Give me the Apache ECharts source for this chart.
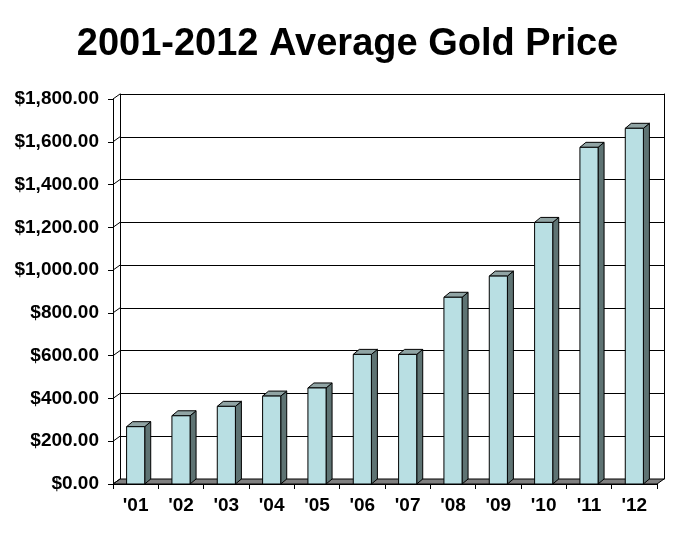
<!DOCTYPE html>
<html>
<head>
<meta charset="utf-8">
<script src="https://cdn.jsdelivr.net/npm/echarts@6/dist/echarts.min.js"></script>
<style>
  html, body { margin: 0; padding: 0; background: #fff; }
  #chart { width: 695px; height: 539px; }
</style>
</head>
<body>
<div id="chart"></div>
<script>
const categories = ["'01", "'02", "'03", "'04", "'05", "'06", "'07", "'08", "'09", "'10", "'11", "'12"];
const prices = [268, 319, 363, 411, 449, 606, 606, 873, 972, 1223, 1574, 1663];
const yTicks = [0, 200, 400, 600, 800, 1000, 1200, 1400, 1600, 1800];

// depth of the back wall and of each bar, in px
const WALL_DX = 7, WALL_DY = 5;
const BAR_DX = 6, BAR_DY = 5;

const fmtMoney = (v) => '$' + v.toLocaleString('en-US', { minimumFractionDigits: 2, maximumFractionDigits: 2 });
const font = '"Liberation Sans", Arial, sans-serif';

const chart = echarts.init(document.getElementById('chart'));

const renderBar = (params, api) => {
  const base = api.coord([api.value(0), 0]);
  const top = api.coord([api.value(0), api.value(1)]);
  const bw = api.size([1, 0])[0] * 0.4;
  const x0 = base[0] - bw / 2;
  const x1 = base[0] + bw / 2;
  const stroke = { stroke: '#000', lineWidth: 1 };
  return {
    type: 'group',
    children: [
      {
        type: 'polygon',
        shape: { points: [[x1, top[1]], [x1 + BAR_DX, top[1] - BAR_DY], [x1 + BAR_DX, base[1] - BAR_DY], [x1, base[1]]] },
        style: Object.assign({ fill: '#5e7373' }, stroke),
      },
      {
        type: 'polygon',
        shape: { points: [[x0, top[1]], [x0 + BAR_DX, top[1] - BAR_DY], [x1 + BAR_DX, top[1] - BAR_DY], [x1, top[1]]] },
        style: Object.assign({ fill: '#90a4a4' }, stroke),
      },
      {
        type: 'rect',
        shape: { x: x0, y: top[1], width: bw, height: base[1] - top[1] },
        style: Object.assign({ fill: '#b9dfe3' }, stroke),
      },
    ],
  };
};

const renderFloor = (params, api) => {
  if (params.dataIndex !== 0) return null;
  const w = api.size([1, 0])[0];
  const left = api.coord([0, 0]);
  const right = api.coord([categories.length - 1, 0]);
  const xl = left[0] - w / 2;
  const xr = right[0] + w / 2;
  const y = left[1];
  return {
    type: 'polygon',
    shape: { points: [[xl, y], [xl + WALL_DX, y - WALL_DY], [xr + WALL_DX, y - WALL_DY], [xr, y]] },
    style: { fill: '#808080', stroke: '#000', lineWidth: 1 },
  };
};

const renderConnector = (params, api) => {
  const w = api.size([1, 0])[0];
  const p = api.coord([0, api.value(0)]);
  const x = p[0] - w / 2;
  return {
    type: 'line',
    shape: { x1: x, y1: p[1], x2: x + WALL_DX, y2: p[1] - WALL_DY },
    style: { stroke: '#000', lineWidth: 1 },
  };
};

chart.setOption({
  animation: false,
  backgroundColor: '#fff',
  title: {
    text: '2001-2012 Average Gold Price',
    left: 'center',
    top: 21,
    textStyle: { fontFamily: font, fontSize: 38, fontWeight: 'bold', color: '#000' },
  },
  grid: [
    { left: 113, top: 99, width: 544, height: 385 },
    { left: 113 + WALL_DX, top: 99 - WALL_DY, width: 544, height: 385 },
  ],
  xAxis: [
    {
      type: 'category',
      gridIndex: 0,
      data: categories,
      axisLine: { lineStyle: { color: '#000', width: 1 } },
      axisTick: { show: true, length: 5, lineStyle: { color: '#000' } },
      axisLabel: { color: '#000', fontFamily: font, fontSize: 19, fontWeight: 'bold', margin: 12 },
    },
    {
      type: 'category',
      gridIndex: 1,
      data: categories,
      show: false,
    },
  ],
  yAxis: [
    {
      type: 'value',
      gridIndex: 0,
      min: 0,
      max: 1800,
      interval: 200,
      axisLine: { show: true, lineStyle: { color: '#000', width: 1 } },
      axisTick: { show: true, length: 5, lineStyle: { color: '#000' } },
      splitLine: { show: false },
      axisLabel: { color: '#000', fontFamily: font, fontSize: 19, fontWeight: 'bold', margin: 14, formatter: fmtMoney },
    },
    {
      type: 'value',
      gridIndex: 1,
      min: 0,
      max: 1800,
      interval: 200,
      axisLine: { show: true, lineStyle: { color: '#000', width: 1 } },
      axisTick: { show: false },
      axisLabel: { show: false },
      splitLine: { show: true, lineStyle: { color: '#000', width: 1 } },
    },
    {
      type: 'value',
      gridIndex: 1,
      position: 'right',
      min: 0,
      max: 1800,
      interval: 200,
      axisLine: { show: true, lineStyle: { color: '#000', width: 1 } },
      axisTick: { show: false },
      axisLabel: { show: false },
      splitLine: { show: false },
    },
  ],
  series: [
    {
      type: 'custom',
      xAxisIndex: 0,
      yAxisIndex: 0,
      z: 3,
      renderItem: renderFloor,
      data: prices.map((v, i) => [i, v]),
    },
    {
      type: 'custom',
      xAxisIndex: 0,
      yAxisIndex: 0,
      z: 3,
      renderItem: renderConnector,
      encode: { y: 0 },
      data: yTicks.map((v) => [v]),
    },
    {
      type: 'custom',
      xAxisIndex: 0,
      yAxisIndex: 0,
      z: 4,
      renderItem: renderBar,
      data: prices.map((v, i) => [i, v]),
    },
  ],
});
</script>
</body>
</html>
